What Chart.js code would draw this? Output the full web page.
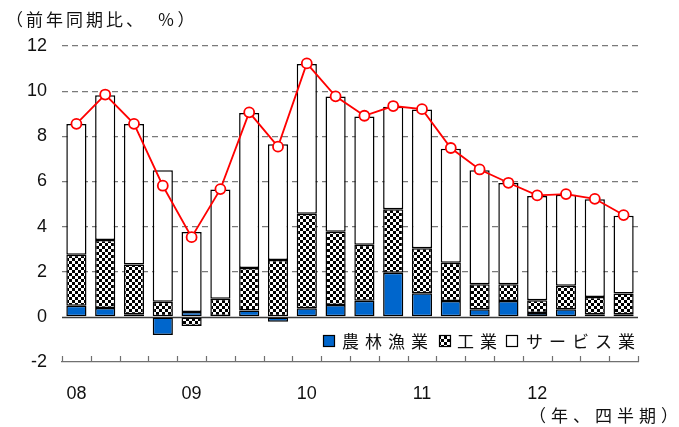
<!DOCTYPE html>
<html lang="ja">
<head>
<meta charset="utf-8">
<script src="https://cdn.jsdelivr.net/npm/chart.js@4.4.1/dist/chart.umd.min.js"></script>
<style>
  html, body { margin: 0; padding: 0; background: #fff; }
  #wrap { width: 679px; height: 427px; position: relative; }
</style>
</head>
<body>
<div id="wrap"><canvas id="c" width="679" height="427"></canvas></div>
<script>
// Quarterly real GDP growth (y/y, %) and sector contributions, 2008Q1–2012Q4
const quarters = [
  '2008Q1','2008Q2','2008Q3','2008Q4',
  '2009Q1','2009Q2','2009Q3','2009Q4',
  '2010Q1','2010Q2','2010Q3','2010Q4',
  '2011Q1','2011Q2','2011Q3','2011Q4',
  '2012Q1','2012Q2','2012Q3','2012Q4'
];
const yearTicks = ['08','','','','09','','','','10','','','','11','','','','12','','',''];

const agriculture = [0.49, 0.39, 0.12, -0.80, 0.22, 0.04, 0.28, -0.22, 0.38, 0.53,
                     0.71, 1.95, 1.05, 0.70, 0.34, 0.70, 0.17, 0.34, 0.11, 0.11];
const industry    = [2.26, 3.01, 2.20, 0.67, -0.40, 0.76, 1.88, 2.52, 4.19, 3.24,
                     2.48, 2.82, 1.99, 1.70, 1.11, 0.75, 0.57, 1.04, 0.77, 0.92];
const services    = [5.79, 6.42, 6.22, 5.83, 3.54, 4.84, 6.87, 5.13, 6.63, 5.99,
                     5.69, 4.54, 6.15, 5.05, 5.05, 4.48, 4.61, 4.03, 4.33, 3.45];
const gdpGrowth   = [8.55, 9.85, 8.55, 5.81, 3.53, 5.66, 9.06, 7.54, 11.23, 9.77,
                     8.91, 9.34, 9.20, 7.48, 6.53, 5.94, 5.38, 5.44, 5.23, 4.51];

const seriesNames = ['農林漁業', '工業', 'サービス業'];
const yTitle = '（前年同期比、　％）';
const xTitle = '（年、四半期）';

const CJK = '"Noto Sans CJK JP", "Noto Sans", sans-serif';
const NUM = '"Liberation Sans", Arial, sans-serif';
const BLUE = '#0066CC';

// black/white checkerboard fill for the industry bars
function checkerPattern(ctx, cell) {
  const p = document.createElement('canvas');
  p.width = cell * 2; p.height = cell * 2;
  const g = p.getContext('2d');
  g.fillStyle = '#fff'; g.fillRect(0, 0, p.width, p.height);
  g.fillStyle = '#000';
  g.fillRect(0, 0, cell, cell);
  g.fillRect(cell, cell, cell, cell);
  return ctx.createPattern(p, 'repeat');
}

const canvas = document.getElementById('c');
const ctx = canvas.getContext('2d');
const checker = checkerPattern(ctx, 3);

function spacedText(c, text, x, y, spacing, align) {
  c.save();
  c.textAlign = align || 'left';
  if ('letterSpacing' in c) {
    c.letterSpacing = spacing + 'px';
    c.fillText(text, x, y);
  } else {
    let cx = x;
    for (const ch of text) { c.fillText(ch, cx, y); cx += c.measureText(ch).width + spacing; }
  }
  c.restore();
}

const decorations = {
  id: 'decorations',
  beforeDatasetsDraw(chart) {
    const c = chart.ctx, a = chart.chartArea, y = chart.scales.y;
    const y0 = Math.round(y.getPixelForValue(0)) + 0.5;
    c.save();
    c.strokeStyle = '#3a3a3a';
    c.lineWidth = 1.3;
    c.beginPath(); c.moveTo(a.left, y0); c.lineTo(a.right, y0); c.stroke();
    c.restore();
  },
  afterDraw(chart) {
    const c = chart.ctx, a = chart.chartArea, x = chart.scales.x;
    const n = quarters.length;
    // tick marks between quarters, pointing up from the axis line
    c.save();
    c.strokeStyle = '#707070';
    c.lineWidth = 1.2;
    c.beginPath();
    for (let i = 0; i <= n; i++) {
      const px = Math.round(x.left + i * (x.width / n)) + 0.5;
      c.moveTo(px, a.bottom); c.lineTo(px, a.bottom - 6);
    }
    c.stroke();
    c.restore();

    c.save();
    c.fillStyle = '#111';
    c.textBaseline = 'middle';
    c.font = '17px ' + CJK;
    spacedText(c, yTitle, 6, 20, 3);
    spacedText(c, xTitle, 529, 416, 5);

    // legend inside the plot, under the bars
    const ly = 341;
    const items = [
      { box: 323, text: 342, fill: BLUE },
      { box: 439, text: 457, fill: checker },
      { box: 506, text: 526, fill: '#fff' }
    ];
    items.forEach((it, i) => {
      c.fillStyle = it.fill;
      c.fillRect(it.box, ly - 6, 12, 12);
      c.strokeStyle = '#000';
      c.lineWidth = 1.2;
      c.strokeRect(it.box + 0.5, ly - 5.5, 11, 11);
      c.fillStyle = '#111';
      spacedText(c, seriesNames[i], it.text, ly + 1, 6);
    });
    c.restore();
  }
};

const barCommon = {
  type: 'bar',
  borderColor: '#000',
  borderWidth: 1.5,
  borderSkipped: false,
  barPercentage: 0.7,
  categoryPercentage: 1.0,
  stack: 'sectors',
  order: 1
};

new Chart(ctx, {
  data: {
    labels: quarters,
    datasets: [
      Object.assign({}, barCommon, { label: seriesNames[0], data: agriculture, backgroundColor: BLUE }),
      Object.assign({}, barCommon, { label: seriesNames[1], data: industry, backgroundColor: checker }),
      Object.assign({}, barCommon, { label: seriesNames[2], data: services, backgroundColor: '#fff' }),
      {
        type: 'line',
        label: '実質GDP成長率',
        data: gdpGrowth,
        stack: 'gdp',
        order: 0,
        borderColor: '#FF0000',
        borderWidth: 1.8,
        tension: 0,
        pointRadius: 5,
        pointBorderWidth: 1.8,
        pointBackgroundColor: '#fff',
        pointBorderColor: '#FF0000'
      }
    ]
  },
  options: {
    responsive: false,
    animation: false,
    devicePixelRatio: 1,
    layout: { padding: { top: 46, right: 41, bottom: 5, left: 0 } },
    plugins: { legend: { display: false }, tooltip: { enabled: false } },
    scales: {
      x: {
        stacked: true,
        offset: true,
        grid: { display: false, drawTicks: false },
        border: { display: true, color: '#707070', width: 1.3 },
        ticks: {
          autoSkip: false, maxRotation: 0, minRotation: 0, padding: 21,
          color: '#111', font: { family: NUM, size: 18 },
          callback: (v, i) => yearTicks[i]
        },
        afterFit: s => { s.height = 60; }
      },
      y: {
        stacked: true,
        min: -2, max: 12,
        border: { display: false, dash: [6, 4] },
        grid: {
          drawTicks: false,
          lineWidth: 1.2,
          color: c => (c.tick && (c.tick.value === 0 || c.tick.value === -2)) ? 'rgba(0,0,0,0)' : '#7a7a7a'
        },
        ticks: {
          stepSize: 2, padding: 15,
          color: '#111', font: { family: NUM, size: 18 }
        },
        afterFit: s => { s.width = 62; }
      }
    }
  },
  plugins: [decorations]
});
</script>
</body>
</html>
